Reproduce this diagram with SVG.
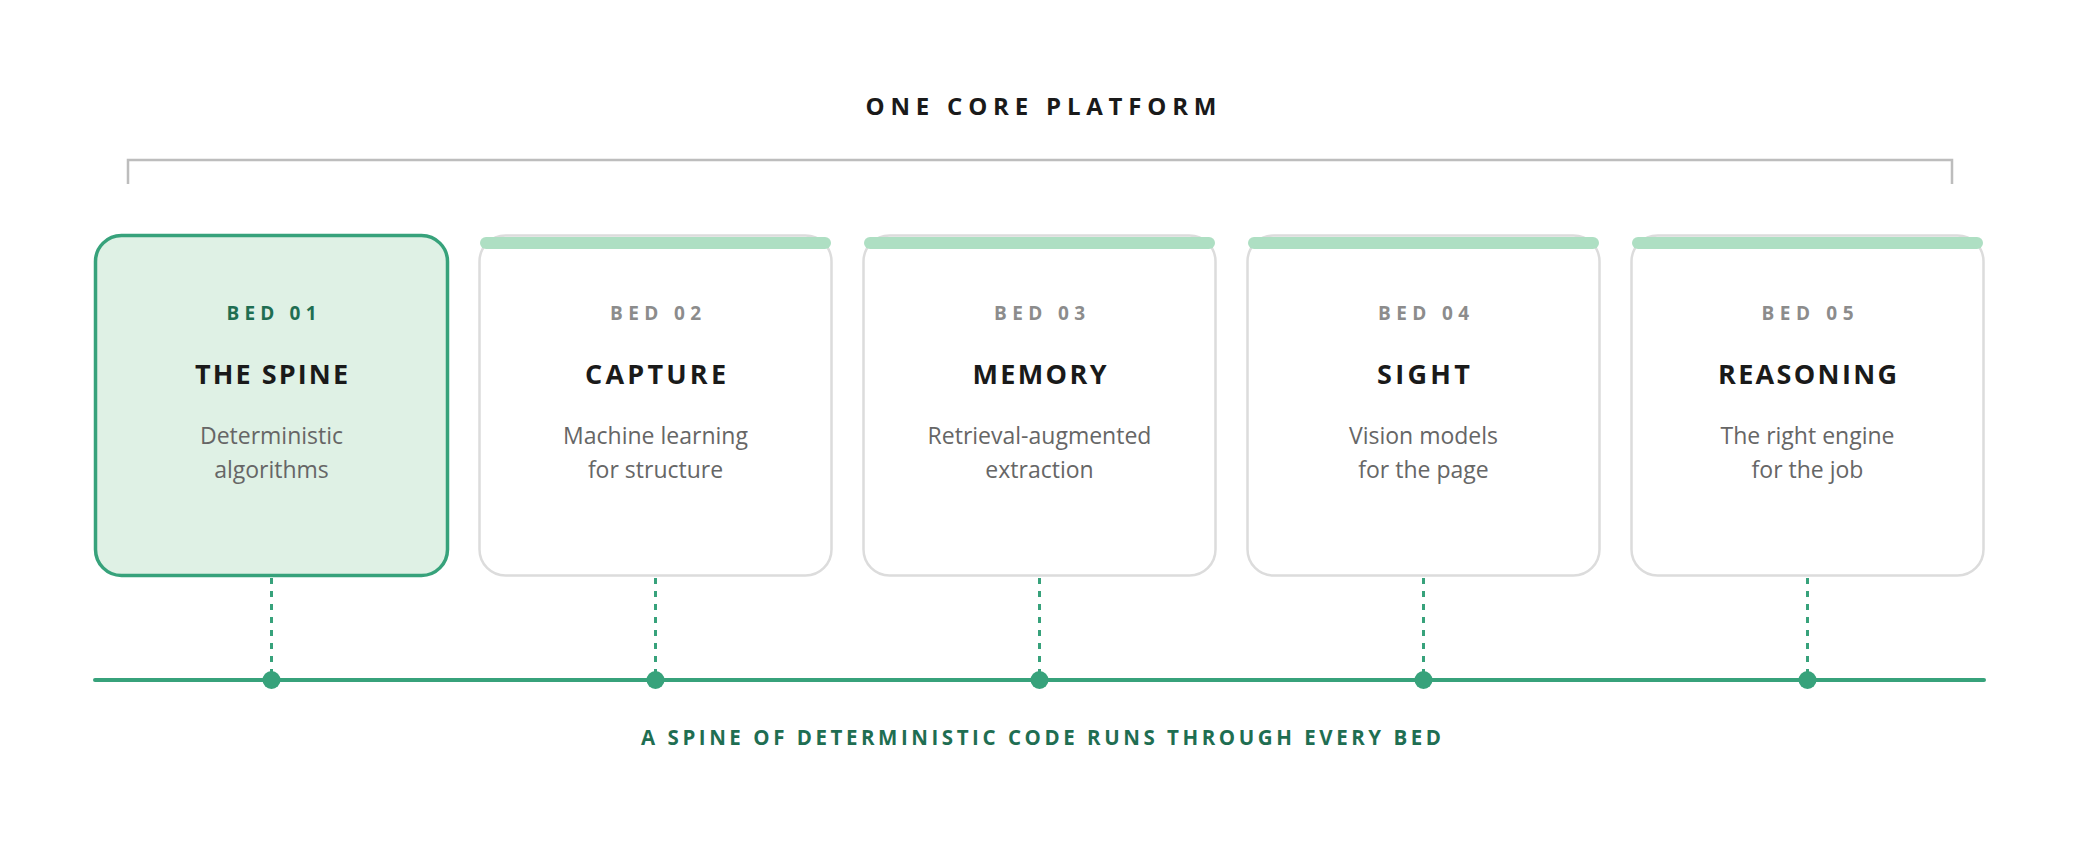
<svg xmlns="http://www.w3.org/2000/svg" width="2080" height="860" viewBox="0 0 2080 860">
<style>
  .lbl { font-family: "Open Sans", "Liberation Sans", sans-serif; font-weight: 700; text-anchor: middle; }
  .hdr { font-size: 24px; fill: #1a1a1a; }
  .bed { font-size: 19px; fill: #8c8c8c; }
  .bed1 { fill: #1f6e52; }
  .ttl { font-size: 27px; fill: #1a1a1a; }
  .foot { font-size: 20.5px; fill: #1f6e52; }
  .desc { font-family: "Open Sans", "Liberation Sans", sans-serif; font-size: 23px; fill: #666666; text-anchor: middle; }
  .card { fill: #ffffff; stroke: #dcdcdc; stroke-width: 2.5; }
  .card1 { fill: #dff1e5; stroke: #37a27b; stroke-width: 3.5; }
  .bar { stroke: #aedfc3; stroke-width: 12; stroke-linecap: round; }
  .dash { stroke: #37a27b; stroke-width: 3; stroke-dasharray: 6 7; }
  .dot { fill: #37a27b; }
  .spine { stroke: #37a27b; stroke-width: 4; stroke-linecap: round; fill: none; }
  .bracket { stroke: #bdbdbd; stroke-width: 2.5; fill: none; }
</style>
<rect width="2080" height="860" fill="#ffffff"/>

<g id="header">
  <text class="lbl hdr" x="1041" y="115" textLength="351" lengthAdjust="spacing">ONE CORE PLATFORM</text>
  <path class="bracket" d="M128,184 V160 H1952 V184"/>
</g>

<g id="bed01">
  <rect class="card1" x="95.5" y="235.5" width="352" height="340" rx="26"/>
  <text class="lbl bed bed1" x="271.5" y="320" textLength="90" lengthAdjust="spacing">BED 01</text>
  <text class="lbl ttl" x="271.5" y="384" textLength="153" lengthAdjust="spacing">THE SPINE</text>
  <text class="desc" x="271.5" y="444">Deterministic</text>
  <text class="desc" x="271.5" y="478">algorithms</text>
</g>

<g id="bed02">
  <rect class="card" x="479.5" y="235.5" width="352" height="340" rx="26"/>
  <line class="bar" x1="486" y1="243" x2="825" y2="243"/>
  <text class="lbl bed" x="655.5" y="320" textLength="91" lengthAdjust="spacing">BED 02</text>
  <text class="lbl ttl" x="655.5" y="384" textLength="141" lengthAdjust="spacing">CAPTURE</text>
  <text class="desc" x="655.5" y="444">Machine learning</text>
  <text class="desc" x="655.5" y="478">for structure</text>
</g>

<g id="bed03">
  <rect class="card" x="863.5" y="235.5" width="352" height="340" rx="26"/>
  <line class="bar" x1="870" y1="243" x2="1209" y2="243"/>
  <text class="lbl bed" x="1039.5" y="320" textLength="91" lengthAdjust="spacing">BED 03</text>
  <text class="lbl ttl" x="1039.5" y="384" textLength="134" lengthAdjust="spacing">MEMORY</text>
  <text class="desc" x="1039.5" y="444">Retrieval-augmented</text>
  <text class="desc" x="1039.5" y="478">extraction</text>
</g>

<g id="bed04">
  <rect class="card" x="1247.5" y="235.5" width="352" height="340" rx="26"/>
  <line class="bar" x1="1254" y1="243" x2="1593" y2="243"/>
  <text class="lbl bed" x="1423.5" y="320" textLength="91" lengthAdjust="spacing">BED 04</text>
  <text class="lbl ttl" x="1423.5" y="384" textLength="93" lengthAdjust="spacing">SIGHT</text>
  <text class="desc" x="1423.5" y="444">Vision models</text>
  <text class="desc" x="1423.5" y="478">for the page</text>
</g>

<g id="bed05">
  <rect class="card" x="1631.5" y="235.5" width="352" height="340" rx="26"/>
  <line class="bar" x1="1638" y1="243" x2="1977" y2="243"/>
  <text class="lbl bed" x="1807.5" y="320" textLength="92" lengthAdjust="spacing">BED 05</text>
  <text class="lbl ttl" x="1807.5" y="384" textLength="179" lengthAdjust="spacing">REASONING</text>
  <text class="desc" x="1807.5" y="444">The right engine</text>
  <text class="desc" x="1807.5" y="478">for the job</text>
</g>

<g id="connectors">
  <line class="spine" x1="95" y1="680" x2="1984" y2="680"/>
  <line class="dash" x1="271.5" y1="578" x2="271.5" y2="672"/>
  <line class="dash" x1="655.5" y1="578" x2="655.5" y2="672"/>
  <line class="dash" x1="1039.5" y1="578" x2="1039.5" y2="672"/>
  <line class="dash" x1="1423.5" y1="578" x2="1423.5" y2="672"/>
  <line class="dash" x1="1807.5" y1="578" x2="1807.5" y2="672"/>
  <circle class="dot" cx="271.5" cy="680" r="9"/>
  <circle class="dot" cx="655.5" cy="680" r="9"/>
  <circle class="dot" cx="1039.5" cy="680" r="9"/>
  <circle class="dot" cx="1423.5" cy="680" r="9"/>
  <circle class="dot" cx="1807.5" cy="680" r="9"/>
</g>

<g id="footer">
  <text class="lbl foot" x="1041" y="745" textLength="800" lengthAdjust="spacing">A SPINE OF DETERMINISTIC CODE RUNS THROUGH EVERY BED</text>
</g>
</svg>
